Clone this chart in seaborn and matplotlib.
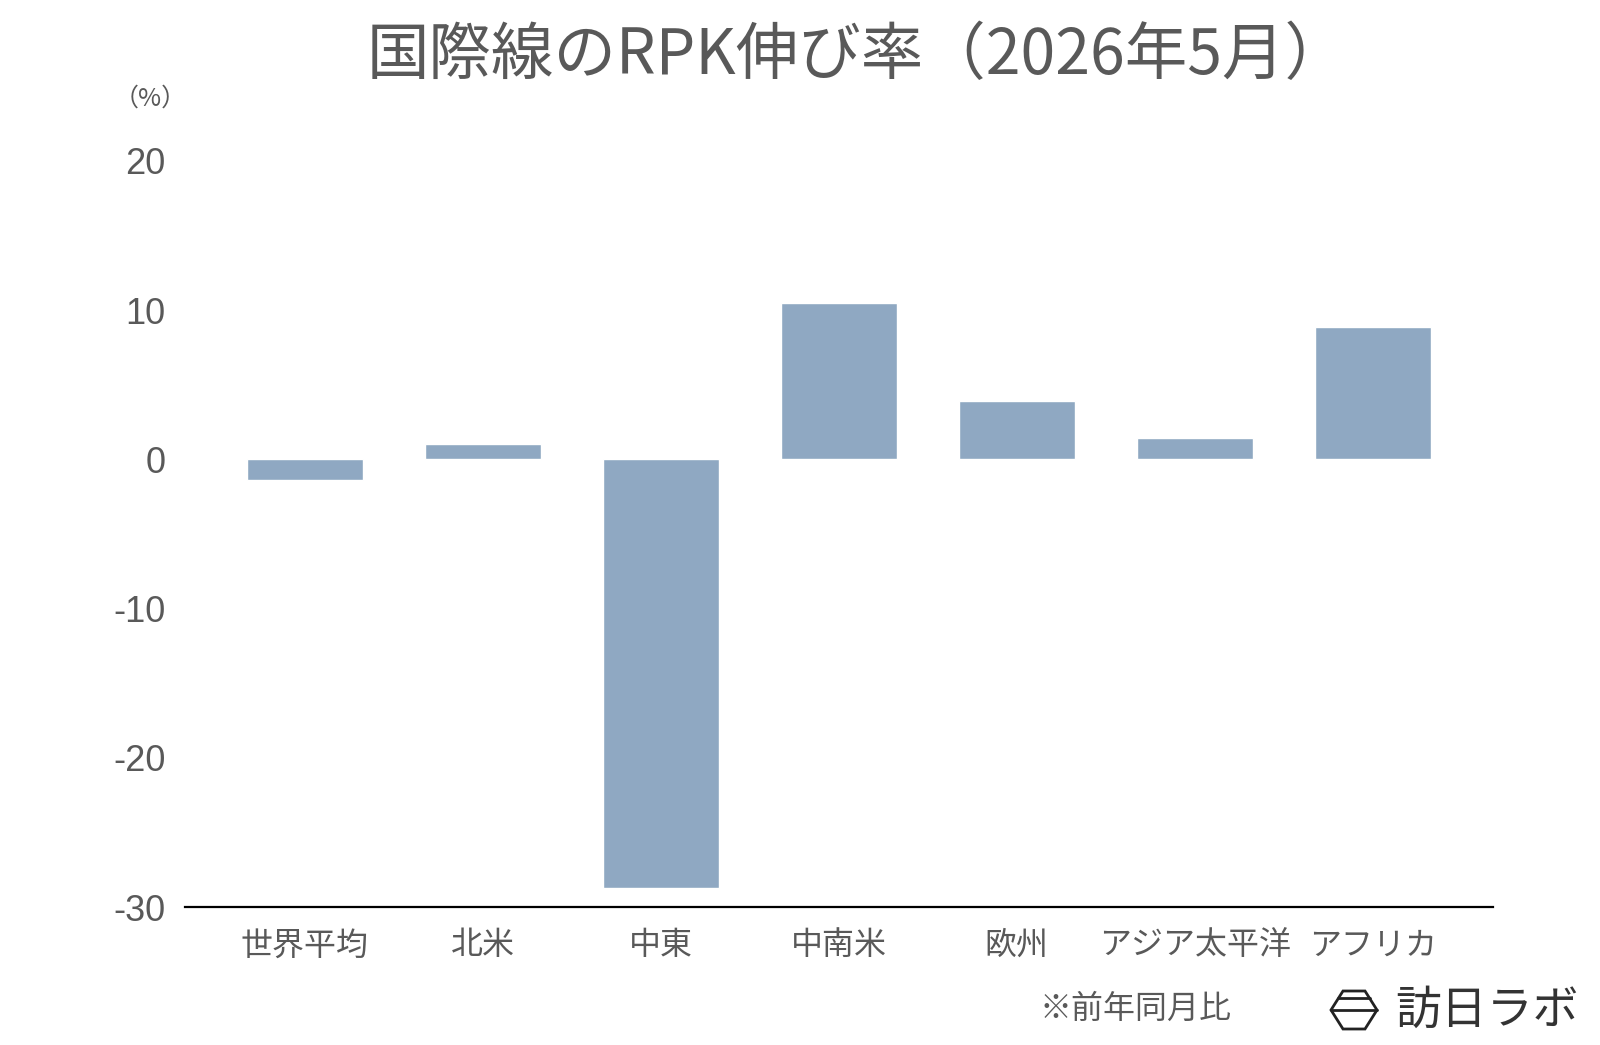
import matplotlib
matplotlib.use("Agg")
import matplotlib.pyplot as plt
import seaborn as sns
import pandas as pd
from matplotlib.patches import Polygon

regions = ['世界平均', '北米', '中東', '中南米', '欧州', 'アジア太平洋', 'アフリカ']
growth = [-1.4, 1.0, -28.7, 10.5, 3.9, 1.4, 8.9]
yticks = [-30, -20, -10, 0, 10, 20]

sns.set_theme(style='white')
plt.rcParams['font.family'] = ['Noto Sans CJK JP', 'DejaVu Sans']

df = pd.DataFrame({'region': regions, 'growth': growth})

fig = plt.figure(figsize=(16, 10.45), dpi=100)
ax = fig.add_axes([0.1156, 0.132, 0.8174, 0.714])

sns.barplot(data=df, x='region', y='growth', color='#8fa8c2', saturation=1,
            width=0.65, ax=ax)

ax.set_ylim(-30, 20)
ax.set_xlim(-0.674, 6.674)
ax.set_yticks(yticks)
ax.set_yticklabels([str(t) for t in yticks])
ax.set_xlabel('')
ax.set_ylabel('')
ax.tick_params(axis='y', length=0, pad=14, labelsize=26, labelcolor='#595959')
ax.tick_params(axis='x', length=0, pad=16, labelsize=23, labelcolor='#595959')
for lab in ax.get_yticklabels():
    lab.set_family(['Liberation Sans', 'DejaVu Sans'])

for s in ['top', 'right', 'left']:
    ax.spines[s].set_visible(False)
ax.spines['bottom'].set_color('black')
ax.spines['bottom'].set_linewidth(1.6)

fig.text(0.536, 0.946, '国際線のRPK伸び率（2026年5月）', ha='center', va='center',
         fontsize=45, color='#595959')
fig.text(0.094, 0.906, '（%）', ha='center', va='center', fontsize=18, color='#595959')
fig.text(0.71, 0.035, '※前年同月比', ha='center', va='center', fontsize=23, color='#595959')
fig.text(0.872, 0.033, '訪日ラボ', ha='left', va='center', fontsize=33, color='#333333')

# logo hexagon
hx = [1331, 1343, 1365, 1377, 1365, 1343]
hy = [1010, 991, 991, 1010, 1029, 1029]
pts = [(x / 1600, 1 - y / 1045) for x, y in zip(hx, hy)]
fig.patches.append(Polygon(pts, closed=True, fill=False, edgecolor='#222222',
                           linewidth=2, transform=fig.transFigure))
fig.lines.append(plt.Line2D([1331 / 1600, 1377 / 1600], [1 - 1010 / 1045] * 2,
                            color='#222222', linewidth=2, transform=fig.transFigure))
fig.lines.append(plt.Line2D([1338 / 1600, 1370 / 1600], [1 - 998 / 1045] * 2,
                            color='#222222', linewidth=2, transform=fig.transFigure))

fig.savefig('out.png', dpi=100, facecolor='white')
